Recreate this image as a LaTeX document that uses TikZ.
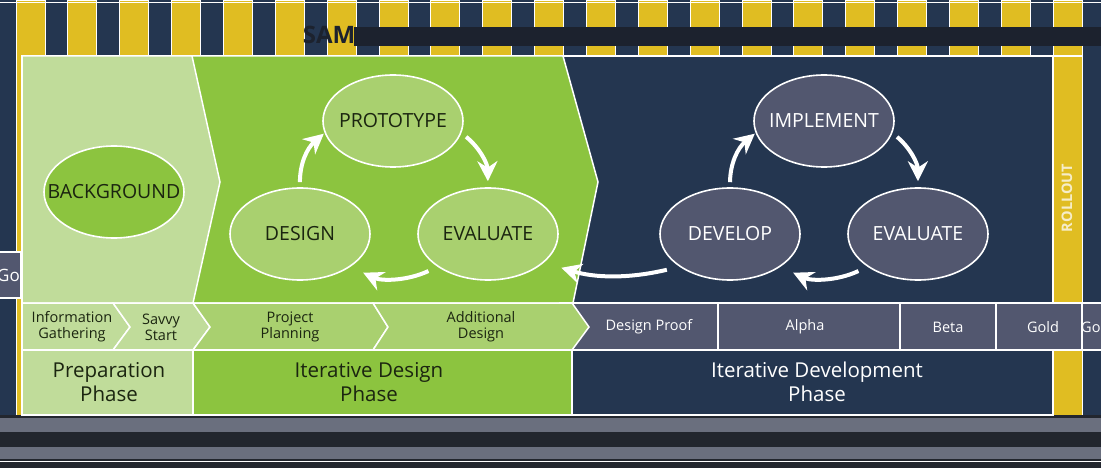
\documentclass[tikz,border=0pt]{standalone}
\usepackage{fontspec}
\setmainfont{Open Sans}
\usetikzlibrary{arrows.meta, positioning, shapes.geometric, calc}

\definecolor{prepgreen}{HTML}{C0DC9A}
\definecolor{itergreen}{HTML}{8CC43F}
\definecolor{cellgreen}{HTML}{A9D06F}
\definecolor{navyblue}{HTML}{243650}
\definecolor{slate}{HTML}{52576F}
\definecolor{samyellow}{HTML}{E0BD22}
\definecolor{inkgreen}{HTML}{1B2510}
\definecolor{samdark}{HTML}{1C222E}
\definecolor{bottomdark}{HTML}{22262E}
\definecolor{bottomgrey}{HTML}{6A6F7E}
\definecolor{rollcream}{HTML}{F6EDC8}

\begin{document}
\begin{tikzpicture}[x=1pt,y=-1pt, font=\fontsize{14.5}{16}\selectfont,
  cyc/.style={ellipse, draw=white, line width=1.6pt, minimum width=140pt, minimum height=92pt, inner sep=0pt, font=\fontsize{19.5}{20}\selectfont},
  dcyc/.style={cyc, fill=cellgreen, text=inkgreen},
  vcyc/.style={cyc, fill=slate, text=white},
  cycarrow/.style={draw=white, line width=4pt, -{Stealth[length=20pt,width=20pt]}, bend left=25},
  cell/.style={draw=white, line width=1.5pt},
  lbl/.style={align=center, text=inkgreen},
  wlbl/.style={align=center, text=white},
  phase/.style={align=center, font=\fontsize{20.5}{24}\selectfont}]
\useasboundingbox (0,0) rectangle (1101,468);

% backdrop
\fill[navyblue] (0,0) rectangle (1101,415);
\foreach \i in {0,...,20}
  \filldraw[fill=samyellow, draw=white, line width=0.8pt] ({16+51.85*\i},0) rectangle +(29,415);
\draw[white, line width=1pt] (0,3) -- (1101,3);
\fill[samdark] (354,27) rectangle (1101,46);
\node[font=\fontsize{24}{24}\selectfont\bfseries, text=samdark, inner sep=0pt] (samtitle) at (329,35) {SAM};
\fill[bottomdark] (0,415) rectangle (1101,468);
\fill[bottomgrey] (0,418) rectangle (1101,432);
\fill[bottomgrey] (0,447) rectangle (1101,459);
\draw[white, line width=1pt] (0,461) -- (1101,461);

% panels
\filldraw[fill=navyblue, draw=white, line width=1.5pt] (22,56) rectangle (1053,415);
\draw[white, line width=1.5pt] (1053,56) -- (1082,56);
\filldraw[fill=itergreen, draw=white, line width=1.5pt] (192,56) -- (563,56) -- (598,182) -- (573,303) -- (193,303) -- cycle;
\filldraw[fill=prepgreen, draw=white, line width=1.5pt] (22,56) -- (192,56) -- (220,182) -- (193,303) -- (22,303) -- cycle;
\node[rotate=90, font=\fontsize{14.5}{14.5}\selectfont\bfseries, text=rollcream] (rollout) at (1067,198) {ROLLOUT};

% cycles
\node[cyc, fill=itergreen, text=inkgreen] (bg) at (114,192) {\makebox[0pt]{BACKGROUND}};
\node[dcyc] (design) at (300,234) {\makebox[0pt]{DESIGN}};
\node[dcyc] (proto) at (393,121) {\makebox[0pt]{PROTOTYPE}};
\node[dcyc] (evald) at (488,234) {\makebox[0pt]{EVALUATE}};
\node[vcyc] (develop) at (730,234) {\makebox[0pt]{DEVELOP}};
\node[vcyc] (implement) at (824,121) {\makebox[0pt]{IMPLEMENT}};
\node[vcyc] (evalv) at (918,234) {\makebox[0pt]{EVALUATE}};

\draw[cycarrow, shorten <=5pt, shorten >=1pt] (design.north) to (proto.190);
\draw[cycarrow, shorten <=6pt, shorten >=6pt] (proto.-10) to (evald.north);
\draw[cycarrow, shorten <=10pt, shorten >=14pt] (evald.213) to (design.-33);
\draw[cycarrow, shorten <=5pt, shorten >=1pt] (develop.north) to (implement.190);
\draw[cycarrow, shorten <=6pt, shorten >=6pt] (implement.-10) to (evalv.north);
\draw[cycarrow, shorten <=10pt, shorten >=14pt] (evalv.213) to (develop.-33);
\draw[cycarrow, bend left=15, shorten <=13pt, shorten >=18pt] (develop.213) to (evald.-27);

% stages
\filldraw[cell, fill=slate] (560,303) rectangle (718,350);
\filldraw[cell, fill=slate] (718,303) rectangle (900,350);
\filldraw[cell, fill=slate] (900,303) rectangle (996,350);
\filldraw[cell, fill=slate] (996,303) rectangle (1082,350);
\filldraw[cell, fill=slate] (1082,303) rectangle (1104,350);
\filldraw[cell, fill=prepgreen] (22,303) -- (113,303) -- (130,327) -- (113,350) -- (22,350) -- cycle;
\filldraw[cell, fill=prepgreen] (113,303) -- (193,303) -- (210,327) -- (193,350) -- (113,350) -- (130,327) -- cycle;
\filldraw[cell, fill=cellgreen] (193,303) -- (373,303) -- (388,327) -- (373,350) -- (193,350) -- (210,327) -- cycle;
\filldraw[cell, fill=cellgreen] (373,303) -- (572,303) -- (589,327) -- (572,350) -- (373,350) -- (388,327) -- cycle;
\node[lbl] (infogath) at (72,327) {Information\\Gathering};
\node[lbl] (savvy) at (161,327) {Savvy\\Start};
\node[lbl] (planning) at (290,327) {Project\\Planning};
\node[lbl] (adddesign) at (481,327) {Additional\\Design};
\node[wlbl] (proof) at (649,327) {Design Proof};
\node[wlbl] (alpha) at (805,327) {Alpha};
\node[wlbl] (beta) at (948,327) {Beta};
\node[wlbl] (gold) at (1043,327) {Gold};
\begin{scope}
  \clip (1082,303) rectangle (1101,350);
  \node[wlbl, anchor=west, inner sep=0pt] (goldright) at (1081,327) {Gold};
\end{scope}

% phases
\filldraw[cell, fill=prepgreen] (22,350) rectangle (193,415);
\filldraw[cell, fill=itergreen] (193,350) rectangle (572,415);
\filldraw[cell, fill=navyblue] (572,350) rectangle (1053,415);
\node[phase, text=inkgreen] (prepphase) at (109,382) {Preparation\\Phase};
\node[phase, text=inkgreen] (desphase) at (369,382) {Iterative Design\\Phase};
\node[phase, text=white] (devphase) at (817,382) {Iterative Development\\Phase};

% wrapped edge cell
\filldraw[cell, fill=slate] (-3,252) rectangle (21,298);
\begin{scope}
  \clip (0,252) rectangle (20,298);
  \node[wlbl, anchor=west, inner sep=0pt, font=\fontsize{17}{17}\selectfont] (goldleft) at (-3,275) {Gold};
\end{scope}
\end{tikzpicture}
\end{document}
